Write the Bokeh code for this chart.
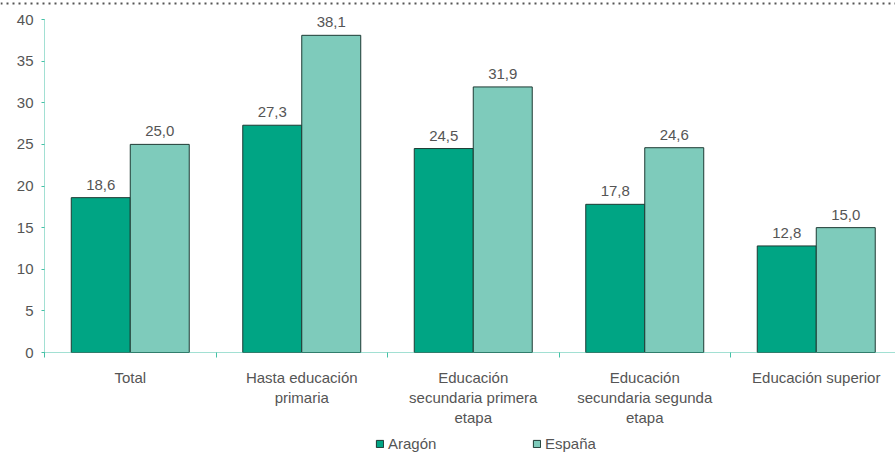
import numpy as np
from bokeh.plotting import figure
from bokeh.models import (ColumnDataSource, Range1d, FixedTicker, Legend, LegendItem, Span)
from bokeh.core.properties import value
from bokeh.embed import file_html
from bokeh.resources import INLINE

categories = ["Total", "Hasta educación\nprimaria", "Educación\nsecundaria primera\netapa",
              "Educación\nsecundaria segunda\netapa", "Educación superior"]
aragon = [18.6, 27.3, 24.5, 17.8, 12.8]
espana = [25.0, 38.1, 31.9, 24.6, 15.0]
series_names = ["Aragón", "España"]
y_ticks = [0, 5, 10, 15, 20, 25, 30, 35, 40]

FONT = "Liberation Sans"
TXT = "#555555"
AXIS_GREEN = "#45c1a6"
C_AR = "#00a584"
C_ES = "#7ecbbb"

W, H = 895, 453
X0_PX, Y0_PX = 44, 352          # pixel position of the data origin inside the figure
PX_X, PX_Y = 171.5, 8.325        # pixels per unit

idx = np.arange(len(categories))
off = 0.172
bw = 0.344

src = ColumnDataSource(dict(
    xa=idx + 0.5 - off, xe=idx + 0.5 + off,
    ar=aragon, es=espana,
    la=[f"{v:.1f}".replace(".", ",") for v in aragon],
    le=[f"{v:.1f}".replace(".", ",") for v in espana],
))

x_start = -X0_PX / PX_X
x_end = (W - X0_PX) / PX_X
y_end = Y0_PX / PX_Y
y_start = -(H - Y0_PX) / PX_Y

p = figure(width=W, height=H, output_backend="svg", toolbar_location=None,
           x_range=Range1d(x_start, x_end), y_range=Range1d(y_start, y_end),
           min_border=0, min_border_left=0, min_border_right=0,
           min_border_top=0, min_border_bottom=0)
p.outline_line_color = None
p.grid.visible = False
p.background_fill_color = "white"
p.border_fill_color = "white"

ra = p.vbar(x="xa", top="ar", width=bw, bottom=0, source=src,
            fill_color=C_AR, line_color="#1d3a33", line_width=1)
re = p.vbar(x="xe", top="es", width=bw, bottom=0, source=src,
            fill_color=C_ES, line_color="#1d3a33", line_width=1)

for xcol, ycol, lab in (("xa", "ar", "la"), ("xe", "es", "le")):
    p.text(x=xcol, y=ycol, text=lab, source=src, text_align="center",
           text_baseline="bottom", y_offset=-8, text_font=value(FONT),
           text_font_size="15px", text_color=TXT)

# top dotted rule
p.add_layout(Span(location=(Y0_PX - 3) / PX_Y, dimension="width", line_color="#555555",
                  line_width=2, line_dash="2 4"))

# y axis, drawn at x = 0
ya = p.yaxis[0]
ya.fixed_location = 0
ya.bounds = (0, 40)
ya.ticker = FixedTicker(ticks=y_ticks)
ya.axis_line_color = AXIS_GREEN
ya.axis_line_dash = "1 1"
ya.major_tick_line_color = AXIS_GREEN
ya.major_tick_out = 3
ya.major_tick_in = 0
ya.minor_tick_line_color = None
ya.major_label_text_font = FONT
ya.major_label_text_font_size = "15px"
ya.major_label_text_color = TXT
ya.major_label_standoff = 8

# x axis, drawn at y = 0
xa = p.xaxis[0]
xa.fixed_location = 0
xa.bounds = (0, x_end)
xa.ticker = FixedTicker(ticks=list(idx + 0.5), minor_ticks=list(idx * 1.0))
xa.major_label_overrides = {float(i + 0.5): c for i, c in enumerate(categories)}
xa.axis_line_color = AXIS_GREEN
xa.axis_line_dash = "1 1"
xa.major_tick_line_color = None
xa.major_tick_out = 0
xa.major_tick_in = 0
xa.minor_tick_line_color = AXIS_GREEN
xa.minor_tick_out = 5
xa.minor_tick_in = 0
xa.major_label_text_font = FONT
xa.major_label_text_font_size = "15px"
xa.major_label_text_color = TXT
xa.major_label_standoff = 11

legend = Legend(items=[LegendItem(label=series_names[0], renderers=[ra]),
                       LegendItem(label=series_names[1], renderers=[re])],
                orientation="horizontal", location=(375, 1),
                label_text_font=FONT, label_text_font_size="15px",
                label_text_color=TXT, glyph_width=9, glyph_height=9,
                label_standoff=4, label_width=144, spacing=0,
                border_line_color=None, background_fill_alpha=0,
                padding=0, margin=0, label_height=15)
p.add_layout(legend, "center")

open("out.html", "w").write(file_html(p, INLINE))
